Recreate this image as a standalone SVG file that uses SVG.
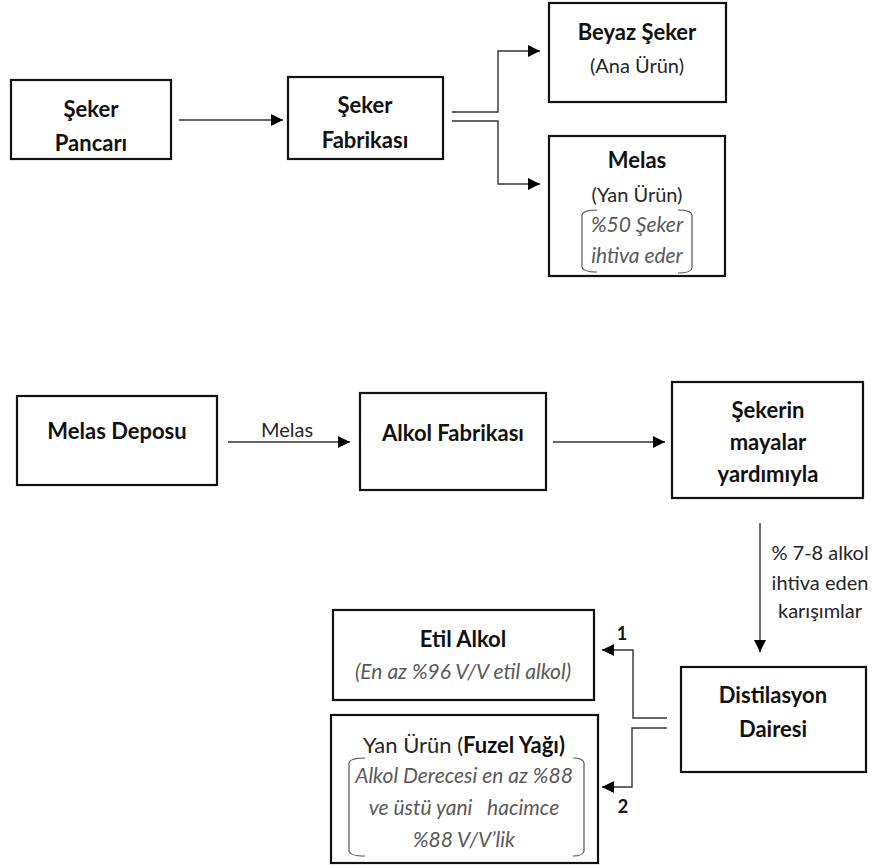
<svg xmlns="http://www.w3.org/2000/svg" width="874" height="865" viewBox="0 0 874 865">
<style>
.box{fill:#fff;stroke:#111;stroke-width:2.2}
.con{fill:none;stroke:#333;stroke-width:1.4}
.brk{fill:none;stroke:#555;stroke-width:1.2}
text{font-family:Lato,"Open Sans","Liberation Sans",sans-serif;text-anchor:middle}
.b{font-size:22px;font-weight:bold;fill:#111}
.r{font-size:20px;fill:#262626}
.i{font-size:21px;font-style:italic;fill:#595959}
.n{font-size:18px;font-weight:bold;fill:#111}
</style>
<defs>
<marker id="ah" markerUnits="userSpaceOnUse" markerWidth="12" markerHeight="12" refX="12" refY="6" orient="auto">
<path d="M0,0 L12,6 L0,12 z" fill="#000"/>
</marker>
<clipPath id="clipY"><rect x="672" y="382" width="191" height="106"/></clipPath>
</defs>

<g id="connectors">
<line class="con" x1="179" y1="120" x2="283" y2="120" marker-end="url(#ah)"/>
<path class="con" d="M452 112 L498 112 L498 51 L540 51" marker-end="url(#ah)"/>
<path class="con" d="M452 121 L498 121 L498 184 L540 184" marker-end="url(#ah)"/>
<line class="con" x1="228" y1="442" x2="350" y2="442" marker-end="url(#ah)"/>
<line class="con" x1="553" y1="442" x2="665" y2="442" marker-end="url(#ah)"/>
<line class="con" x1="760" y1="523" x2="760" y2="652" marker-end="url(#ah)"/>
<path class="con" d="M667 718 L633 718 L633 650 L602 650" marker-end="url(#ah)"/>
<path class="con" d="M667 728 L632 728 L632 787 L602 787" marker-end="url(#ah)"/>
<text class="r" x="287" y="437">Melas</text>
<text class="r" x="820" y="560">% 7-8 alkol</text>
<text class="r" x="820" y="590">ihtiva eden</text>
<text class="r" x="820" y="618">karışımlar</text>
<text class="n" x="622" y="640">1</text>
<text class="n" x="623" y="813">2</text>
</g>

<g id="seker-pancari">
<rect class="box" x="11" y="80" width="160" height="79"/>
<text class="b" x="91" y="117">Şeker</text>
<text class="b" x="91" y="151">Pancarı</text>
</g>

<g id="seker-fabrikasi">
<rect class="box" x="288" y="77" width="155" height="82"/>
<text class="b" x="365" y="113">Şeker</text>
<text class="b" x="365" y="148">Fabrikası</text>
</g>

<g id="beyaz-seker">
<rect class="box" x="549" y="3" width="177" height="99"/>
<text class="b" x="637" y="40">Beyaz Şeker</text>
<text class="r" x="637" y="73">(Ana Ürün)</text>
</g>

<g id="melas">
<rect class="box" x="549" y="136" width="176" height="140"/>
<text class="b" x="637" y="168">Melas</text>
<text class="r" x="637" y="202">(Yan Ürün)</text>
<path class="brk" d="M597 210 Q583 210 582 215 L582 267 Q583 272 597 272"/>
<path class="brk" d="M678 210 Q691 210 692 215 L692 268 Q691 273 678 273"/>
<text class="i" x="637" y="232">%50 Şeker</text>
<text class="i" x="637" y="263">ihtiva eder</text>
</g>

<g id="melas-deposu">
<rect class="box" x="17" y="396" width="200" height="89"/>
<text class="b" x="117" y="439">Melas Deposu</text>
</g>

<g id="alkol-fabrikasi">
<rect class="box" x="360" y="393" width="186" height="97"/>
<text class="b" x="453" y="441">Alkol Fabrikası</text>
</g>

<g id="sekerin-mayalar">
<rect class="box" x="672" y="382" width="191" height="116"/>
<text class="b" x="768" y="418">Şekerin</text>
<text class="b" x="768" y="450">mayalar</text>
<text class="b" x="768" y="482" clip-path="url(#clipY)">yardımıyla</text>
</g>

<g id="etil-alkol">
<rect class="box" x="333" y="610" width="261" height="90"/>
<text class="b" x="463" y="647">Etil Alkol</text>
<text class="i" x="463" y="679">(En az %96 V/V etil alkol)</text>
</g>

<g id="yan-urun">
<rect class="box" x="331" y="715" width="267" height="148"/>
<text x="464" y="753" style="font-size:22px;fill:#262626">Yan Ürün (<tspan font-weight="bold" fill="#111">Fuzel Yağı)</tspan></text>
<path class="brk" d="M365 758 Q350 758 349 763 L349 851 Q350 856 365 856"/>
<path class="brk" d="M573 758 Q583 758 584 763 L584 851 Q583 856 573 856"/>
<text class="i" x="464" y="783">Alkol Derecesi en az %88</text>
<text class="i" x="464" y="815" xml:space="preserve">ve üstü yani   hacimce</text>
<text class="i" x="464" y="847">%88 V/V’lik</text>
</g>

<g id="distilasyon">
<rect class="box" x="681" y="667" width="185" height="105"/>
<text class="b" x="773" y="703">Distilasyon</text>
<text class="b" x="773" y="737">Dairesi</text>
</g>
</svg>
